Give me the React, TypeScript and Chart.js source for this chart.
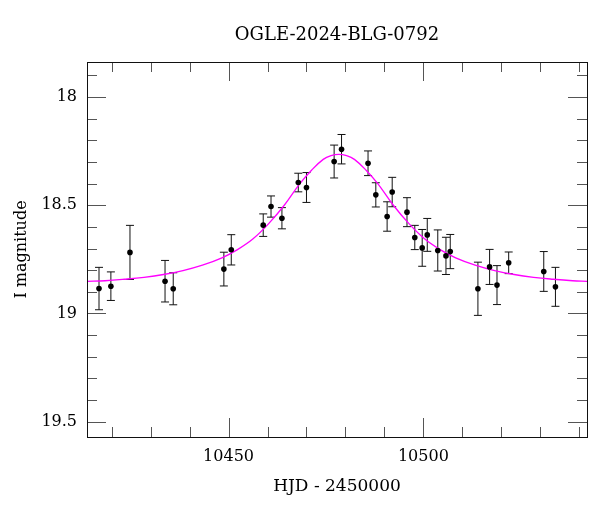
import React, { useEffect, useRef } from "react";
import { Chart, registerables } from "chart.js";

Chart.register(...registerables);

const TITLE = "OGLE-2024-BLG-0792";
const X_LABEL = "HJD - 2450000";
const Y_LABEL = "I magnitude";

const X_MIN = 10413.67;
const X_MAX = 10542.0;
const Y_MIN = 17.838;
const Y_MAX = 19.571;

const X_TICKS = [10450, 10500];
const X_MINOR = [10420, 10430, 10440, 10460, 10470, 10480, 10490, 10510, 10520, 10530, 10540];
const Y_TICKS = [18, 18.5, 19, 19.5];
const Y_MINOR = [17.9, 18.1, 18.2, 18.3, 18.4, 18.6, 18.7, 18.8, 18.9, 19.1, 19.2, 19.3, 19.4];

// Observations
const hjd = [
  10416.75, 10419.8, 10424.7, 10433.7, 10435.8, 10448.8, 10450.7, 10458.9,
  10460.9, 10463.7, 10467.9, 10470.0, 10477.1, 10479.0, 10485.8, 10487.8,
  10490.7, 10492.0, 10495.8, 10497.8, 10499.7, 10501.0, 10503.7, 10505.8,
  10506.9, 10514.0, 10517.0, 10518.9, 10521.9, 10530.9, 10533.9,
];
const mag = [
  18.885, 18.874, 18.718, 18.851, 18.886, 18.795, 18.706, 18.592,
  18.506, 18.56, 18.395, 18.418, 18.298, 18.241, 18.306, 18.452,
  18.552, 18.439, 18.532, 18.649, 18.697, 18.637, 18.709, 18.734,
  18.714, 18.886, 18.785, 18.869, 18.766, 18.806, 18.877,
];
const magErr = [
  0.098, 0.066, 0.125, 0.096, 0.074, 0.078, 0.07, 0.052,
  0.049, 0.049, 0.043, 0.069, 0.076, 0.068, 0.057, 0.056,
  0.068, 0.068, 0.067, 0.056, 0.085, 0.076, 0.095, 0.086,
  0.079, 0.123, 0.081, 0.09, 0.05, 0.092, 0.09,
];

// Model light curve
const modelHjd = [
  10413.67, 10418.3, 10423.3, 10428.3, 10433.3, 10438.3, 10443.3, 10448.3,
  10452.3, 10456.3, 10460.3, 10464.3, 10468.3, 10471.3, 10474.3, 10476.3,
  10478.3, 10480.3, 10482.3, 10485.3, 10488.3, 10492.3, 10496.3, 10500.3,
  10504.3, 10508.3, 10513.3, 10518.3, 10523.3, 10528.3, 10533.3, 10538.3, 10542.0,
];
const modelMag = [
  18.852, 18.849, 18.842, 18.833, 18.82, 18.802, 18.777, 18.743,
  18.705, 18.655, 18.585, 18.5, 18.4, 18.338, 18.288, 18.271,
  18.265, 18.271, 18.288, 18.338, 18.4, 18.5, 18.585, 18.655,
  18.705, 18.743, 18.777, 18.802, 18.82, 18.833, 18.842, 18.849, 18.852,
];

const FONT = '"DejaVu Serif", serif';

const errorBars = {
  id: "errorBars",
  beforeDatasetsDraw(chart: any) {
    const { ctx, scales, chartArea } = chart;
    const xs = scales.x;
    const ys = scales.y;
    ctx.save();
    ctx.beginPath();
    ctx.rect(chartArea.left, chartArea.top, chartArea.right - chartArea.left, chartArea.bottom - chartArea.top);
    ctx.clip();
    ctx.strokeStyle = "#111";
    ctx.lineWidth = 1;
    const cap = 4;
    for (let i = 0; i < hjd.length; i++) {
      const px = xs.getPixelForValue(hjd[i]);
      const y1 = ys.getPixelForValue(mag[i] - magErr[i]);
      const y2 = ys.getPixelForValue(mag[i] + magErr[i]);
      ctx.beginPath();
      ctx.moveTo(px, y1);
      ctx.lineTo(px, y2);
      ctx.moveTo(px - cap, y1);
      ctx.lineTo(px + cap, y1);
      ctx.moveTo(px - cap, y2);
      ctx.lineTo(px + cap, y2);
      ctx.stroke();
    }
    ctx.restore();
  },
};

const frameTicks = {
  id: "frameTicks",
  afterDatasetsDraw(chart: any) {
    const { ctx, scales, chartArea: a } = chart;
    const xs = scales.x;
    const ys = scales.y;
    ctx.save();
    ctx.lineWidth = 1;
    ctx.strokeStyle = "#555";
    const seg = (x1: number, y1: number, x2: number, y2: number) => {
      ctx.beginPath();
      ctx.moveTo(x1, y1);
      ctx.lineTo(x2, y2);
      ctx.stroke();
    };
    const xt = (v: number, len: number) => {
      const p = Math.round(xs.getPixelForValue(v)) + 0.5;
      seg(p, a.bottom, p, a.bottom - len);
      seg(p, a.top, p, a.top + len);
    };
    const yt = (v: number, len: number) => {
      const p = Math.round(ys.getPixelForValue(v)) + 0.5;
      seg(a.left, p, a.left + len, p);
      seg(a.right, p, a.right - len, p);
    };
    X_TICKS.forEach((v) => xt(v, 19));
    X_MINOR.forEach((v) => xt(v, 10));
    Y_TICKS.forEach((v) => yt(v, 19));
    Y_MINOR.forEach((v) => yt(v, 10));
    ctx.strokeStyle = "#111";
    ctx.strokeRect(
      Math.round(a.left) + 0.5,
      Math.round(a.top) + 0.5,
      Math.round(a.right) - Math.round(a.left),
      Math.round(a.bottom) - Math.round(a.top)
    );
    // title centered over the plot frame
    ctx.fillStyle = "#000";
    ctx.font = `18px ${FONT}`;
    ctx.textAlign = "center";
    ctx.textBaseline = "middle";
    ctx.fillText(TITLE, (a.left + a.right) / 2, 35);
    ctx.restore();
  },
};

export default function App() {
  const ref = useRef<HTMLCanvasElement | null>(null);
  useEffect(() => {
    if (!ref.current) return;
    const chart = new Chart(ref.current, {
      type: "scatter",
      data: {
        datasets: [
          {
            label: "data",
            data: hjd.map((x, i) => ({ x, y: mag[i] })),
            pointRadius: 2.8,
            pointBackgroundColor: "#000",
            pointBorderWidth: 0,
            showLine: false,
          },
          {
            label: "model",
            type: "line",
            data: modelHjd.map((x, i) => ({ x, y: modelMag[i] })),
            borderColor: "#ff00ff",
            borderWidth: 1.3,
            pointRadius: 0,
            fill: false,
            tension: 0.4,
          } as any,
        ],
      },
      options: {
        responsive: false,
        animation: false,
        devicePixelRatio: 1,
        layout: { padding: { left: 0, right: 13, top: 62, bottom: 0 } },
        plugins: {
          legend: { display: false },
          title: { display: false },
          tooltip: { enabled: false },
        },
        scales: {
          x: {
            type: "linear",
            min: X_MIN,
            max: X_MAX,
            grid: { display: false, drawTicks: false },
            border: { display: false },
            afterBuildTicks: (s: any) => {
              s.ticks = X_TICKS.map((value) => ({ value }));
            },
            afterFit: (s: any) => {
              s.height = 75;
            },
            ticks: {
              padding: 10,
              color: "#000",
              font: { family: FONT, size: 16 },
              callback: (v: any) => String(v),
              maxRotation: 0,
            },
            title: {
              display: true,
              text: X_LABEL,
              color: "#000",
              font: { family: FONT, size: 17 },
              padding: { top: 0, bottom: 15 },
            },
          },
          y: {
            type: "linear",
            reverse: true,
            min: Y_MIN,
            max: Y_MAX,
            grid: { display: false, drawTicks: false },
            border: { display: false },
            afterBuildTicks: (s: any) => {
              s.ticks = Y_TICKS.map((value) => ({ value }));
            },
            afterFit: (s: any) => {
              s.width = 87;
            },
            ticks: {
              padding: 10,
              color: "#000",
              font: { family: FONT, size: 16 },
              callback: (v: any) => String(v),
            },
            title: {
              display: true,
              text: Y_LABEL,
              color: "#000",
              font: { family: FONT, size: 16 },
              padding: { top: 12, bottom: 0 },
            },
          },
        },
      },
      plugins: [errorBars, frameTicks],
    });
    return () => chart.destroy();
  }, []);
  return (
    <div style={{ position: "absolute", left: 0, top: 0, width: 600, height: 512, background: "#fff" }}>
      <canvas ref={ref} width={600} height={512} style={{ display: "block", width: 600, height: 512 }} />
    </div>
  );
}
